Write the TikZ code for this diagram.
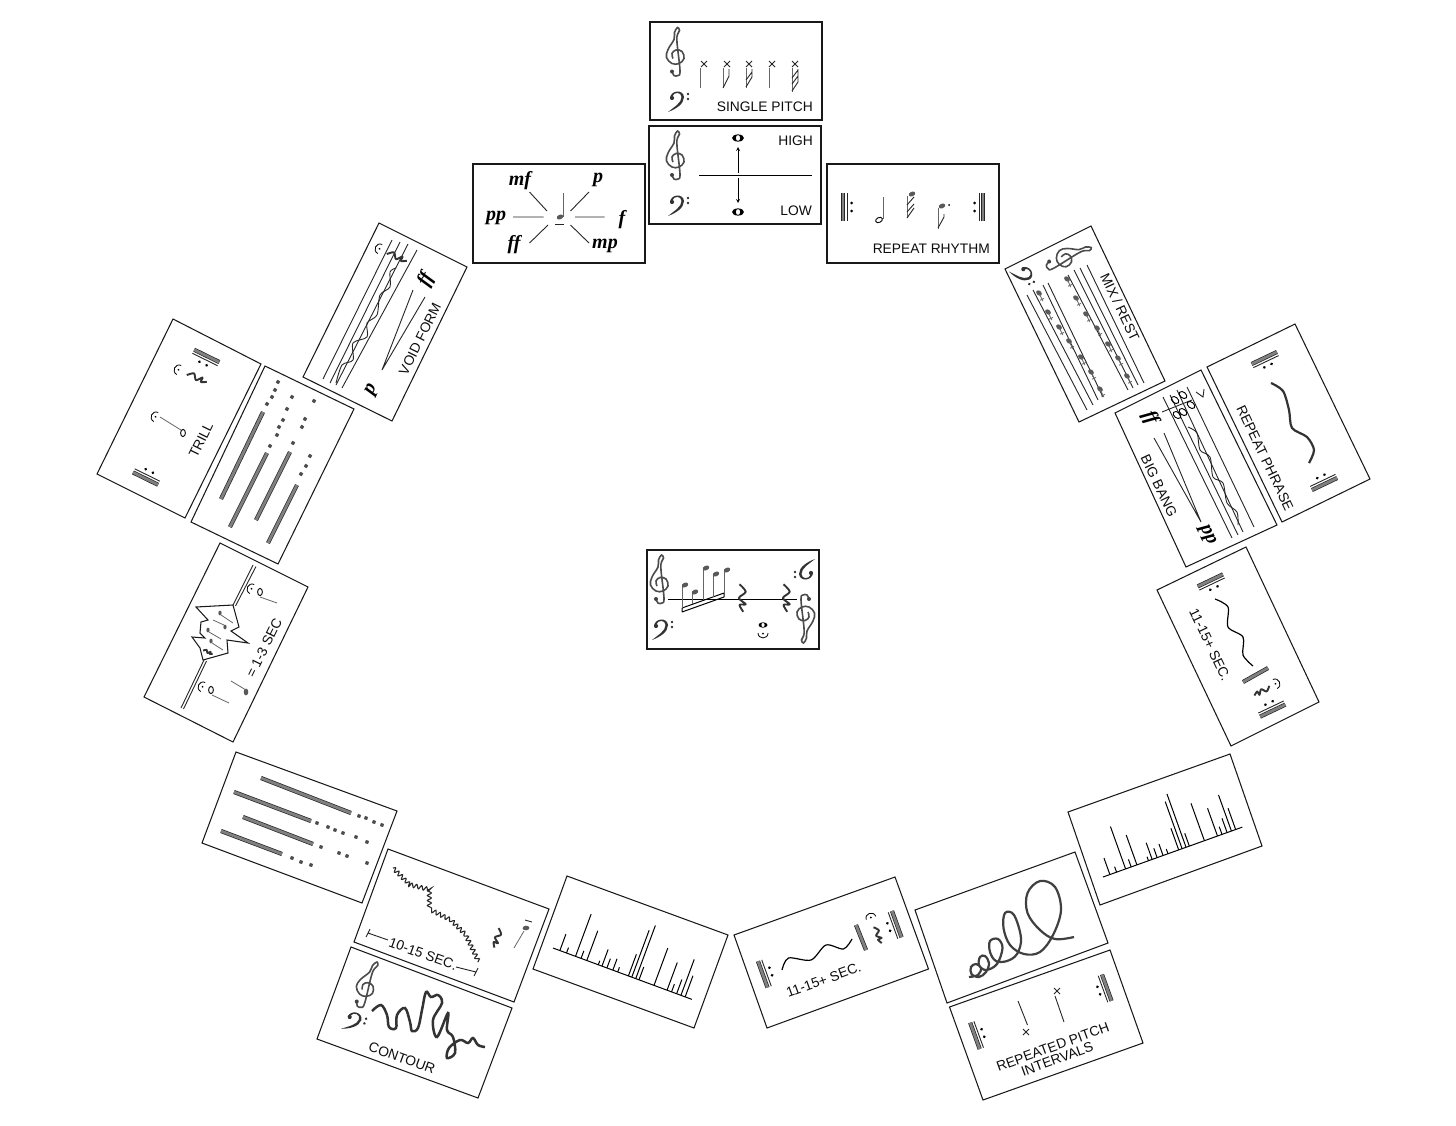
\documentclass[tikz,border=0pt]{standalone}
\usepackage{fontspec}
\setmainfont{Liberation Sans}
\newfontfamily\dynfont{Liberation Serif}
\usetikzlibrary{plotmarks,decorations.pathmorphing}
\tikzset{
  card/.style = {draw = black!90, line width = 1.05pt, fill = white},
  lbl/.style = {font = \fontsize{13.8}{13}\selectfont, inner sep = 0pt, align = center, text = black!95},
  dyn/.style = {font = \fontsize{20}{20}\dynfont\bfseries\itshape\selectfont, inner sep = 0pt},
  stemline/.style = {draw = black!60, line width = .8pt},
  thinline/.style = {draw = black!85, line width = .9pt},
  rod/.style = {draw = black!85, line width = .7pt, double = black!50, double distance = 2.8pt},
  squares/.style = {only marks, mark = square*, mark size = 1.4pt, mark options = {rotate = #1, fill = black!70, draw = black!70}},
  jagged/.style = {draw = black!85, line width = 1.1pt, decorate, decoration = {snake, amplitude = 2pt, segment length = 5pt}},
  hd/.pic = {\fill[black!65, rotate = 25] (0,0) ellipse [x radius = 3.4, y radius = 2.3];},
  mixhd/.pic = {\fill[black!65, rotate = 25] (0,0) ellipse [x radius = 3.2, y radius = 2.3];
    \draw[stemline] (1,0) -- (9,0) (7,-2.2) -- (7,2.2);},
  openhd/.pic = {\draw[line width = .9pt, rotate = 25] (0,0) ellipse [x radius = 3.6, y radius = 2.4];},
  wholenote/.pic = {\fill[even odd rule] (0,0) ellipse [x radius = 6, y radius = 3.6] (0,0) ellipse [x radius = 2.2, y radius = 3];},
  fermata/.pic = {\draw[line width = .8pt] (-5,0) .. controls (-5,-6.5) and (5,-6.5) .. (5,0);
    \fill (0,-.5) circle [radius = 1];},
  quarterrest/.pic = {\draw[line width = 1.9pt, black!80, line join = round] plot[smooth, tension = .5] coordinates {(-2,-11) (3,-5) (-2.5,0) (3,5) (-2,5.5) (1,11)};},
  repeatsign/.pic = {\draw[rod] (-4,-14) -- (-4,14);
    \draw[thinline] (0,-14) -- (0,14);
    \fill (4.5,-4) circle [radius = 1.5] (4.5,4) circle [radius = 1.5];},
  treble/.pic = {\draw[line width = 1.6pt, black!70] plot[smooth, tension = .65] coordinates {(-4,19) (-2,23) (2,23) (4,18) (1,-10) (1.5,-18) (3.5,-22) (1.5,-25) (-1.5,-20) (-2,-13) (-8,-3) (-9.5,5) (-4,11) (3,11) (8,6) (6,-1) (0,-2.5) (-4,1) (-3,6)};
    \fill[black!75] (-4,19) circle [radius = 2];},
  bass/.pic = {\fill[black!80] (-8,-1) .. controls (-7,-9) and (5,-10) .. (6,-2) .. controls (6,5) and (-2,10) .. (-10,13) .. controls (-4,8) and (3.5,4) .. (3.5,-2) .. controls (3.5,-7) and (-4,-8) .. (-6,-2) -- cycle;
    \fill[black!80] (-6,-1) circle [radius = 2.1] (10,-5) circle [radius = 1.4] (10,0) circle [radius = 1.4];},
  barchart/.pic = {\draw[line width = 1pt] (0,0) -- (148,0);
    \draw[line width = 1pt] (7.3,0) -- (7.3,-17.5) (14.4,0) -- (14.4,-5.8) (24,0) -- (24,-45) (29.9,0) -- (29.9,-8) (36,0) -- (36,-31.7);
    \draw[line width = 1pt] (48.3,0) -- (48.3,-4.3) (52.2,0) -- (52.2,-17.7) (57.5,0) -- (57.5,-9.9) (63.8,0) -- (63.8,-12.2) (69,0) -- (69,-5);
    \draw[line width = 1pt] (80.4,0) -- (80.4,-23) (84,0) -- (84,-50) (88.2,0) -- (88.2,-56.6) (91.7,0) -- (91.7,-13.6) (107.7,0) -- (107.7,-39.7);
    \draw[line width = 1pt] (121.6,0) -- (121.6,-29.5) (126.4,0) -- (126.4,-8.2) (131.8,0) -- (131.8,-15.2) (136.4,0) -- (136.4,-38.3) (140.9,0) -- (140.9,-22.6);}
}
\begin{document}
\begin{tikzpicture}[x = 1pt, y = -1pt]
\useasboundingbox (0,0) rectangle (1456,1125);

% single pitch
\draw[card] (650,22) rectangle (822,120);
\pic at (676,52.5) {treble};
\pic at (678,99) {bass};
\draw[thinline] (701,61) -- (707,67) (707,61) -- (701,67) (724,61) -- (730,67) (730,61) -- (724,67) (746,61) -- (752,67) (752,61) -- (746,67) (769,61) -- (775,67) (775,61) -- (769,67) (792,61) -- (798,67) (798,61) -- (792,67);
\draw[stemline] (700,68) -- (700,88) (723,68) -- (723,88) (746,68) -- (746,88) (769,68) -- (769,88) (792,68) -- (792,92);
\draw[thinline] (723,88) -- (729,76) -- (729,69) (746,87) -- (752,77) -- (752,69) (746,80) -- (752,72) (792,91) -- (798,82) -- (798,69) (792,84) -- (798,76) (792,78) -- (798,70);
\node[lbl, anchor = east] (singlepitch) at (813,107) {SINGLE PITCH};

% high and low
\draw[card] (649,126) rectangle (821,224);
\pic at (676,156) {treble};
\pic at (678,203) {bass};
\draw[line width = 1pt] (699,175) -- (812,175);
\pic at (738,138) {wholenote};
\pic at (738,212) {wholenote};
\draw[-stealth, stemline, draw = black] (738,173) -- (738,147);
\draw[-stealth, stemline, draw = black] (738,178) -- (738,203);
\node[lbl, anchor = east] (high) at (813,141) {HIGH};
\node[lbl, anchor = east] (low) at (812,211) {LOW};

% dynamics
\draw[card] (473,164) rectangle (645,263);
\draw[stemline] (563.5,193) -- (563.5,217);
\pic at (560,217) {hd};
\draw[thinline] (555,224) -- (564,224);
\draw[thinline] (513,217) -- (543.5,217) (575,217) -- (604.5,217) (529.5,192) -- (547,211) (589,192) -- (570.5,211) (548,225) -- (529.5,243) (570.5,225) -- (589,243);
\node[dyn] (mf) at (520,181) {mf};
\node[dyn] (p) at (598,180) {p};
\node[dyn] (pp) at (496,218) {pp};
\node[dyn] (f) at (622,220) {f};
\node[dyn] (ff) at (514,245) {ff};
\node[dyn] (mp) at (605,246) {mp};

% repeat rhythm
\draw[card] (827,164) rectangle (999,263);
\pic at (847,207) {repeatsign};
\pic[rotate = 180] at (979,207) {repeatsign};
\pic at (879,220) {openhd};
\draw[stemline] (883,197) -- (883,219);
\pic at (912,194) {hd};
\draw[stemline] (907,196) -- (907,218);
\draw[thinline] (907,205) -- (914,197) (907,212) -- (914,204) (907,218) -- (914,208);
\pic at (942,206) {hd};
\fill (949,205) circle [radius = 1];
\draw[stemline] (938,208) -- (938,229);
\draw[thinline] (938,228) -- (944,217) -- (944,214);
\node[lbl, anchor = east] (repeatrhythm) at (990,249) {REPEAT RHYTHM};

% centre
\draw[card] (647,550) rectangle (819,649);
\pic at (660,580) {treble};
\pic at (662,627) {bass};
\pic[rotate = 180] at (805,572) {bass};
\pic[rotate = 180] at (805,618) {treble};
\draw[line width = 1pt] (668,599) -- (797,599);
\draw[line width = 1pt] (682,608) -- (724,593) (682,612) -- (724,597) (682,608) -- (682,612) (724,593) -- (724,597);
\draw[stemline] (682,585) -- (682,608) (692,592) -- (692,604) (703,568) -- (703,600) (713,574) -- (713,597) (724,570) -- (724,593);
\pic at (685,585) {hd};
\pic at (695,592) {hd};
\pic at (706,568) {hd};
\pic at (716,574) {hd};
\pic at (727,570) {hd};
\pic[scale = 1.25] at (742,598) {quarterrest};
\pic[scale = 1.25] at (786,598) {quarterrest};
\pic[scale = .75] at (763,625) {wholenote};
\pic[rotate = 180] at (763,633) {fermata};

% mix and rest
\draw[card] (1005,269) -- (1091,226) -- (1165,381) -- (1079,422) -- cycle;
\pic[rotate = -64.5] at (1068,257) {treble};
\pic[rotate = -64.5] at (1025,275) {bass};
\draw[thinline] (1087,265) -- (1144,383) (1080,268) -- (1138,385) (1074,270) -- (1133,388) (1068,275) -- (1128,390);
\draw[thinline] (1048,283) -- (1103,397) (1043,285) -- (1098,400) (1033,290) -- (1093,405) (1027,295) -- (1087,410);
\pic[rotate = -64.5] at (1067,279) {mixhd};
\pic[rotate = -64.5] at (1076,298) {mixhd};
\pic[rotate = -64.5] at (1086,314) {mixhd};
\pic[rotate = -64.5] at (1097,328) {mixhd};
\pic[rotate = -64.5] at (1108,344) {mixhd};
\pic[rotate = -64.5] at (1118,358) {mixhd};
\pic[rotate = -64.5] at (1127,376) {mixhd};
\pic[rotate = -64.5] at (1039,293) {mixhd};
\pic[rotate = -64.5] at (1048,312) {mixhd};
\pic[rotate = -64.5] at (1059,327) {mixhd};
\pic[rotate = -64.5] at (1069,341) {mixhd};
\pic[rotate = -64.5] at (1081,357) {mixhd};
\pic[rotate = -64.5] at (1091,372) {mixhd};
\pic[rotate = -64.5] at (1100,389) {mixhd};
\node[lbl, rotate = -64.5] (mixrest) at (1120,307) {MIX / REST};

% repeat phrase
\draw[card] (1295,324) -- (1370,479) -- (1282,522) -- (1207,367) -- cycle;
\pic[rotate = -64.5] at (1266,361.6) {repeatsign};
\pic[rotate = 115.5] at (1322.8,480.4) {repeatsign};
\draw[line width = 2.2pt, black!80] plot[smooth] coordinates {(1271,383) (1283,391) (1289,410) (1292,428) (1307,437) (1314,450) (1309,463)};
\node[lbl, rotate = -64.5] (repeatphrase) at (1265,458) {REPEAT PHRASE};

% big bang
\draw[card] (1201,370) -- (1277,525) -- (1186,567) -- (1115,413) -- cycle;
\draw[thinline] (1187,387) -- (1254,527) (1177,390) -- (1243,532) (1170,395) -- (1238,535) (1163,397) -- (1232,538);
\draw[thinline] plot[smooth] coordinates {(1188,427) (1197,433) (1200,450) (1210,457) (1213,477) (1223,483) (1227,503) (1237,512) (1238,525)};
\draw[thinline] (1162,412) -- (1192,400);
\pic[rotate = -64.5, scale = 1.2] at (1175,400) {openhd};
\pic[rotate = -64.5, scale = 1.2] at (1183,395) {openhd};
\pic[rotate = -64.5, scale = 1.2] at (1191,405) {openhd};
\pic[rotate = -64.5, scale = 1.2] at (1183,412) {openhd};
\pic[rotate = -64.5, scale = 1.2] at (1177,415) {openhd};
\draw[thinline] (1196,392) -- (1203,397) -- (1204,389);
\node[dyn, rotate = -64.5] (bangff) at (1150,418) {ff};
\node[dyn, rotate = -64.5] (bangpp) at (1207,535) {pp};
\draw[thinline] (1154,438) -- (1201,522) -- (1164,433);
\node[lbl, rotate = -64.5] (bigbang) at (1159,486) {BIG BANG};

% timed phrase, right
\draw[card] (1246,547) -- (1319,702) -- (1231,746) -- (1157,590) -- cycle;
\pic[rotate = -64.5] at (1212,584) {repeatsign};
\pic[rotate = 115.5] at (1271,707) {repeatsign};
\draw[line width = 1.2pt] plot[smooth] coordinates {(1215,599) (1228,607) (1228,627) (1243,637) (1243,655) (1253,666)};
\draw[rod] (1243,682) -- (1268,668);
\pic[rotate = -64.5, scale = .8] at (1262,691) {quarterrest};
\pic[rotate = -64.5] at (1275,684) {fermata};
\node[lbl, rotate = -64.5] (timedright) at (1210,645) {11-15+ SEC.};

% loop of rods, right
\draw[card] (1068,812) -- (1230,754) -- (1262,846) -- (1100,905) -- cycle;
\pic[rotate = 19.7] at (1103,877) {barchart};

% spiral
\draw[card] (915,910) -- (1075,852) -- (1108,943) -- (947,1003) -- cycle;
\draw[line width = 2.2pt, black!75] plot[smooth, tension = .6] coordinates {(969,977) (978,975) (981,968) (976,964) (971,967) (971.5,974) (979,977) (986,972) (989,963) (985,956) (980,957) (979,965) (986,970) (997,964) (1002.5,948) (998,939) (990,941) (990,952) (996,961) (1007,961) (1017,954) (1021,938) (1014,915) (1005,913) (1003.5,928) (1010,945) (1024,954) (1040,952) (1053,935) (1061,910) (1055,887) (1040,881) (1027.5,893) (1027.5,913) (1040,930) (1055,939) (1074,937)};

% repeated pitch intervals
\draw[card] (1110,950) -- (1143,1043) -- (983,1100) -- (949.5,1007) -- cycle;
\pic[rotate = 19.9] at (978.7,1034.5) {repeatsign};
\pic[rotate = 199.9] at (1103,989) {repeatsign};
\draw[thinline] (1018,1001) -- (1027.5,1025) (1023,1029) -- (1029,1035) (1029,1029) -- (1023,1035);
\draw[thinline] (1055,996) -- (1064,1022) (1054,988) -- (1060,994) (1060,988) -- (1054,994);
\node[lbl, rotate = 19.9] (pitchintervals) at (1055,1053) {REPEATED PITCH\\INTERVALS};

% timed phrase, bottom
\draw[card] (895,877) -- (928.5,969) -- (767,1028) -- (734,935) -- cycle;
\pic[rotate = 19.9] at (766.5,973) {repeatsign};
\pic[rotate = 199.9] at (893,925.5) {repeatsign};
\draw[line width = 1.2pt] plot[smooth] coordinates {(782,970) (788.5,958) (811,960) (826,945) (843.5,949) (852,939)};
\draw[rod] (856,925) -- (866,950);
\pic[rotate = 19.9, scale = .8] at (878,935) {quarterrest};
\pic[rotate = 19.9] at (871,918) {fermata};
\node[lbl, rotate = 19.9] (timedbottom) at (823.6,980) {11-15+ SEC.};

% loop of rods, left
\draw[card] (567,876) -- (728,935) -- (694,1028) -- (533,969) -- cycle;
\pic[rotate = -20.3] at (553,948) {barchart};

% ten to fifteen seconds
\draw[card] (388,849) -- (549,909) -- (514,1002) -- (354,942) -- cycle;
\draw[jagged] (393,868) -- (410,885) -- (430,890) -- (430,910) -- (450,920) -- (465,935) -- (478,962);
\draw[thinline] (368,933) -- (388,940) (456,967) -- (476,972) (370,929) -- (366,937) (478,968) -- (474,976);
\node[lbl, rotate = -20] (tensec) at (423,954) {10-15 SEC.};
\pic[rotate = -20, scale = .9] at (497,938) {quarterrest};
\pic[rotate = -20] at (526,928) {hd};
\draw[stemline] (524,931) -- (514,948);
\draw[thinline] (525,920) -- (532,922);

% contour
\draw[card] (351,947) -- (512,1008) -- (478,1098) -- (317,1039) -- cycle;
\pic[rotate = -20] at (367,985) {treble};
\pic[rotate = -20] at (355,1020) {bass};
\draw[line width = 2.5pt, black!80] plot[smooth, tension = .6] coordinates {(372,1011) (381,1005) (387,1015) (389,1027) (396,1028) (397,1015) (405,1008) (410,1022) (412,1031) (418,1028) (422,1010) (426,992) (431,997) (438,995) (442,1003) (433,1020) (437,1037) (448,1013) (447,1030) (453,1037) (455,1053) (447,1058) (449,1048) (460,1040) (468,1043) (473,1038) (478,1045) (485,1047)};
\node[lbl, rotate = -20] (contour) at (402,1058) {CONTOUR};

% rods and dots, lower left
\draw[card] (236,752) -- (397,811) -- (362,903) -- (202,843) -- cycle;
\draw[rod] (261,778) -- (351,813);
\draw[rod] (234,792) -- (311,821);
\draw[rod] (243,817) -- (313,844);
\draw[rod] (221,831) -- (282,854);
\path plot[squares = -20] coordinates {(359,816) (366,818) (374,822) (382,825) (317,823) (328,827) (335,830) (343,833) (356,837) (367,842) (321,847) (339,853) (347,856) (367,863) (292,858) (301,862) (311,865)};

% one to three seconds
\draw[card] (220,543) -- (308,587) -- (233,742) -- (144,697) -- cycle;
\draw[thinline] (253,565) -- (233,605) (256,566.5) -- (235.5,606) (204,660) -- (181,708) (206.5,661) -- (183.5,709);
\draw[card] (233,605) -- (196,607) -- (208,620) -- (201,622) -- (200,633) -- (205,638) -- (192,637) -- (200,648) -- (203,660) -- (228,653) -- (227,640) -- (248,643) -- (231,631) -- (239,627) -- cycle;
\pic[rotate = 63.7, scale = .7] at (220,613) {hd};
\draw[stemline] (221,615) -- (233,623);
\pic[rotate = 63.7, scale = .7] at (208,630) {hd};
\draw[stemline] (209,632) -- (221,639);
\pic[rotate = 63.7, scale = .7] at (211,641) {hd};
\draw[stemline] (212,643) -- (223,650);
\pic[rotate = 63.7, scale = .7] at (225,627) {hd};
\draw[stemline] (224,625) -- (213,620);
\pic[rotate = 63.7, scale = .45] at (208,652) {quarterrest};
\pic[rotate = 63.7] at (252,589) {fermata};
\pic[rotate = 63.7] at (260,592) {openhd};
\draw[stemline] (260,597) -- (277,603);
\pic[rotate = 63.7] at (203,687) {fermata};
\pic[rotate = 63.7] at (211,690) {openhd};
\draw[stemline] (212,695) -- (229,703);
\pic[rotate = 63.7] at (246,692) {hd};
\draw[stemline] (231,681) -- (246,690);
\node[lbl, rotate = 63.7] (onethreesec) at (264,648) {= 1-3 SEC};

% trill
\draw[card] (173,319) -- (261,364) -- (185,518) -- (97,474) -- cycle;
\pic[rotate = 63.8] at (147.3,475) {repeatsign};
\pic[rotate = 243.8] at (205,359.5) {repeatsign};
\pic[rotate = 63.8] at (179,370) {fermata};
\pic[rotate = 63.8, scale = .95] at (197,378) {quarterrest};
\pic[rotate = 63.8] at (156,417) {fermata};
\draw[stemline] (160,417) -- (181,430);
\pic[rotate = 63.8] at (183,433) {openhd};
\node[lbl, rotate = 63.8] (trill) at (201,440) {TRILL};

% rods and dots, upper left
\draw[card] (265,366) -- (354,409) -- (278,564) -- (191,522) -- cycle;
\draw[rod] (263,412) -- (221,499);
\draw[rod] (267,453) -- (230,527);
\draw[rod] (290,452) -- (256,520);
\draw[rod] (297,485) -- (268,543);
\path plot[squares = 63.7] coordinates {(267,404) (272,397) (275,390) (278,382) (270,446) (277,435) (279,427) (283,420) (287,409) (292,397) (293,443) (302,427) (305,419) (314,401) (301,474) (306,466) (310,456)};

% void form
\draw[card] (379,223) -- (467,267) -- (392,421) -- (303,377) -- cycle;
\draw[thinline] (323,379) -- (392,240) (330,383) -- (400,242) (336,385) -- (408,244) (342,388) -- (417,250);
\draw[thinline] plot[smooth] coordinates {(336,383) (342,365) (353,360) (353,343) (367,337) (367,323) (377,315) (380,295) (390,287) (390,272) (396,268)};
\pic[rotate = 63.7] at (380,249) {fermata};
\pic[rotate = 63.7, scale = .95] at (397,257) {quarterrest};
\draw[thinline] (413,290) -- (382,370) -- (425,297);
\node[dyn, rotate = 63.7] (voidp) at (372,390) {p};
\node[dyn, rotate = 63.7] (voidff) at (426,280) {ff};
\node[lbl, rotate = 63.7] (voidform) at (420,339) {VOID FORM};
\end{tikzpicture}
\end{document}
